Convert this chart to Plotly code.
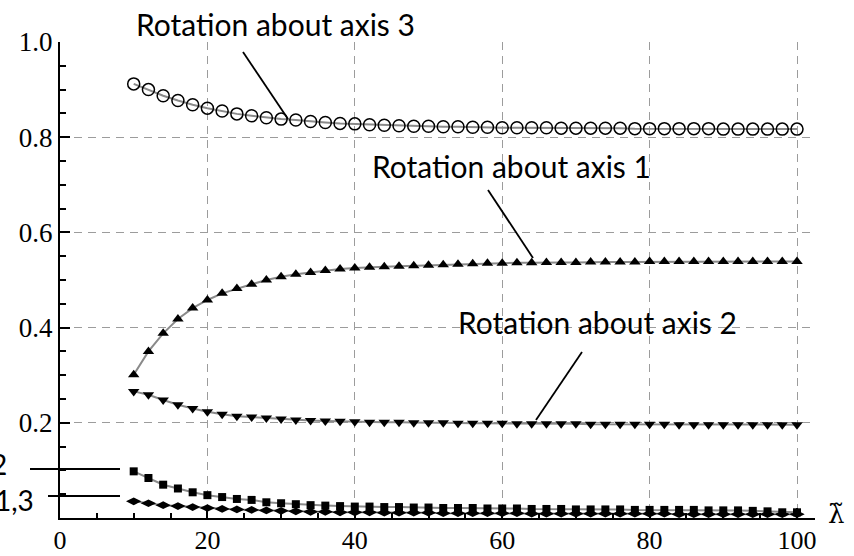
import plotly.graph_objects as go

# ---- data ----
lam = [10, 12, 14, 16, 18, 20, 22, 24, 26, 28, 30, 32, 34, 36, 38, 40, 42, 44, 46, 48,
       50, 52, 54, 56, 58, 60, 62, 64, 66, 68, 70, 72, 74, 76, 78, 80, 82, 84, 86, 88,
       90, 92, 94, 96, 98, 100]

rot_axis3 = [0.912, 0.900, 0.887, 0.877, 0.868, 0.861, 0.855, 0.849, 0.845, 0.841,
             0.838, 0.836, 0.833, 0.831, 0.829, 0.828, 0.826, 0.825, 0.824, 0.823,
             0.823, 0.822, 0.822, 0.821, 0.821, 0.820, 0.820, 0.820, 0.820, 0.819,
             0.819, 0.819, 0.819, 0.819, 0.818, 0.818, 0.818, 0.818, 0.818, 0.818,
             0.817, 0.817, 0.817, 0.817, 0.817, 0.817]

rot_axis1 = [0.301, 0.350, 0.388, 0.418, 0.441, 0.458, 0.472, 0.482, 0.491, 0.500,
             0.507, 0.512, 0.516, 0.520, 0.523, 0.525, 0.527, 0.528, 0.529, 0.530,
             0.531, 0.532, 0.533, 0.534, 0.535, 0.535, 0.536, 0.536, 0.537, 0.537,
             0.537, 0.538, 0.538, 0.538, 0.538, 0.539, 0.539, 0.539, 0.539, 0.539,
             0.539, 0.539, 0.539, 0.539, 0.539, 0.539]

rot_axis2 = [0.266, 0.259, 0.248, 0.238, 0.230, 0.223, 0.218, 0.214, 0.212, 0.210,
             0.208, 0.206, 0.205, 0.204, 0.203, 0.202, 0.201, 0.201, 0.201, 0.200,
             0.200, 0.200, 0.199, 0.199, 0.199, 0.199, 0.198, 0.198, 0.198, 0.198,
             0.198, 0.197, 0.197, 0.197, 0.197, 0.197, 0.197, 0.196, 0.196, 0.196,
             0.196, 0.196, 0.196, 0.196, 0.196, 0.196]

lab2 = [0.098, 0.084, 0.070, 0.062, 0.054, 0.048, 0.044, 0.040, 0.038, 0.033,
        0.031, 0.029, 0.027, 0.026, 0.025, 0.024, 0.024, 0.023, 0.023, 0.022,
        0.022, 0.021, 0.021, 0.021, 0.020, 0.020, 0.020, 0.019, 0.019, 0.019,
        0.018, 0.018, 0.018, 0.018, 0.017, 0.017, 0.017, 0.017, 0.017, 0.016,
        0.016, 0.016, 0.015, 0.014, 0.012, 0.012]

lab13 = [0.035, 0.031, 0.027, 0.025, 0.023, 0.021, 0.019, 0.018, 0.017, 0.016,
         0.015, 0.014, 0.013, 0.013, 0.012, 0.012, 0.012, 0.011, 0.011, 0.011,
         0.011, 0.010, 0.010, 0.010, 0.010, 0.010, 0.010, 0.009, 0.009, 0.009,
         0.009, 0.009, 0.009, 0.009, 0.009, 0.009, 0.009, 0.008, 0.008, 0.008,
         0.008, 0.008, 0.008, 0.008, 0.008, 0.008]

x_ticks = [0, 20, 40, 60, 80, 100]
y_ticks = [0.2, 0.4, 0.6, 0.8, 1.0]
y_ticklabels = ["0.2", "0.4", "0.6", "0.8", "1.0"]

# ---- layout geometry (pixels) ----
W, H = 854, 556
ML, MR, MT, MB = 60, 39, 42, 38
PW, PH = W - ML - MR, H - MT - MB


def px(x):
    return (x - ML) / PW


def py(y):
    return (H - MB - y) / PH


LINE = "#8a8a8a"
fig = go.Figure()

series = [
    (lab13, "diamond-wide", 11, None),
    (lab2, "square", 8, None),
    (rot_axis2, "triangle-down", 10, None),
    (rot_axis1, "triangle-up", 10, None),
    (rot_axis3, "circle-open", 12, 1.5),
]
for vals, sym, size, lw in series:
    mk = dict(symbol=sym, size=size, color="black")
    if lw:
        mk["line"] = dict(color="black", width=lw)
    else:
        mk["line"] = dict(width=0)
    fig.add_trace(go.Scatter(x=lam, y=vals, mode="lines+markers",
                             line=dict(color=LINE, width=2),
                             marker=mk, showlegend=False, cliponaxis=False))

serif = "Liberation Serif"
sans = "Lato"

fig.update_layout(
    width=W, height=H,
    margin=dict(l=ML, r=MR, t=MT, b=MB, pad=0),
    paper_bgcolor="white", plot_bgcolor="white",
    showlegend=False,
    xaxis=dict(range=[0, PW / 7.37], tickvals=x_ticks, ticktext=[str(v) for v in x_ticks],
               automargin=False,
               showgrid=True, gridcolor="#9c9c9c", griddash="8px,6px", gridwidth=1.3,
               zeroline=False, showline=True, linecolor="black", linewidth=2,
               ticks="inside", ticklen=10, tickwidth=1.5, tickcolor="black",
               ticklabelstandoff=-2,
               minor=dict(dtick=5, tick0=0, ticks="inside", ticklen=5, tickwidth=1.5,
                          tickcolor="black", showgrid=False),
               tickfont=dict(family=serif, size=26, color="black")),
    yaxis=dict(range=[0, 1.0], tickvals=y_ticks, ticktext=y_ticklabels,
               automargin=False,
               showgrid=True, gridcolor="#9c9c9c", griddash="8px,6px", gridwidth=1.3,
               zeroline=False, showline=True, linecolor="black", linewidth=2,
               ticks="inside", ticklen=10, tickwidth=1.5, tickcolor="black",
               minor=dict(dtick=0.05, tick0=0, ticks="inside", ticklen=6, tickwidth=1.5,
                          tickcolor="black", showgrid=False),
               tickfont=dict(family=serif, size=27, color="black")),
)

# annotation leader lines (pixel positions converted to paper coords)
lines = [
    ((243, 52), (288, 119)),
    ((488, 190), (533, 258)),
    ((582, 352), (536, 420)),
    ((30, 469), (120, 469)),
    ((48, 496), (120, 496)),
]
for (x0, y0), (x1, y1) in lines:
    fig.add_shape(type="line", xref="paper", yref="paper",
                  x0=px(x0), y0=py(y0), x1=px(x1), y1=py(y1),
                  line=dict(color="black", width=1.8))

labels = [
    ("Rotation about axis 3", 275, 24),
    ("Rotation about axis 1", 511, 166),
    ("Rotation about axis 2", 597, 322),
]
for txt, x, y in labels:
    fig.add_annotation(text=txt, xref="paper", yref="paper", x=px(x), y=py(y),
                       xanchor="center", yanchor="middle", showarrow=False,
                       font=dict(family=sans, size=30, color="black"))

fig.add_annotation(text="2", xref="paper", yref="paper", x=px(9), y=py(464),
                   xanchor="right", yanchor="middle", showarrow=False,
                   font=dict(family=sans, size=28, color="black"))
fig.add_annotation(text="1,3", xref="paper", yref="paper", x=px(36), y=py(500),
                   xanchor="right", yanchor="middle", showarrow=False,
                   font=dict(family=sans, size=28, color="black"))
# axis label: lambda with a tilde above
fig.add_annotation(text="\u03bb\u0303", xref="paper", yref="paper", x=px(836), y=py(514),
                   xanchor="center", yanchor="middle", showarrow=False,
                   font=dict(family="DejaVu Serif", size=26, color="black"))

fig.write_html("out.html")
